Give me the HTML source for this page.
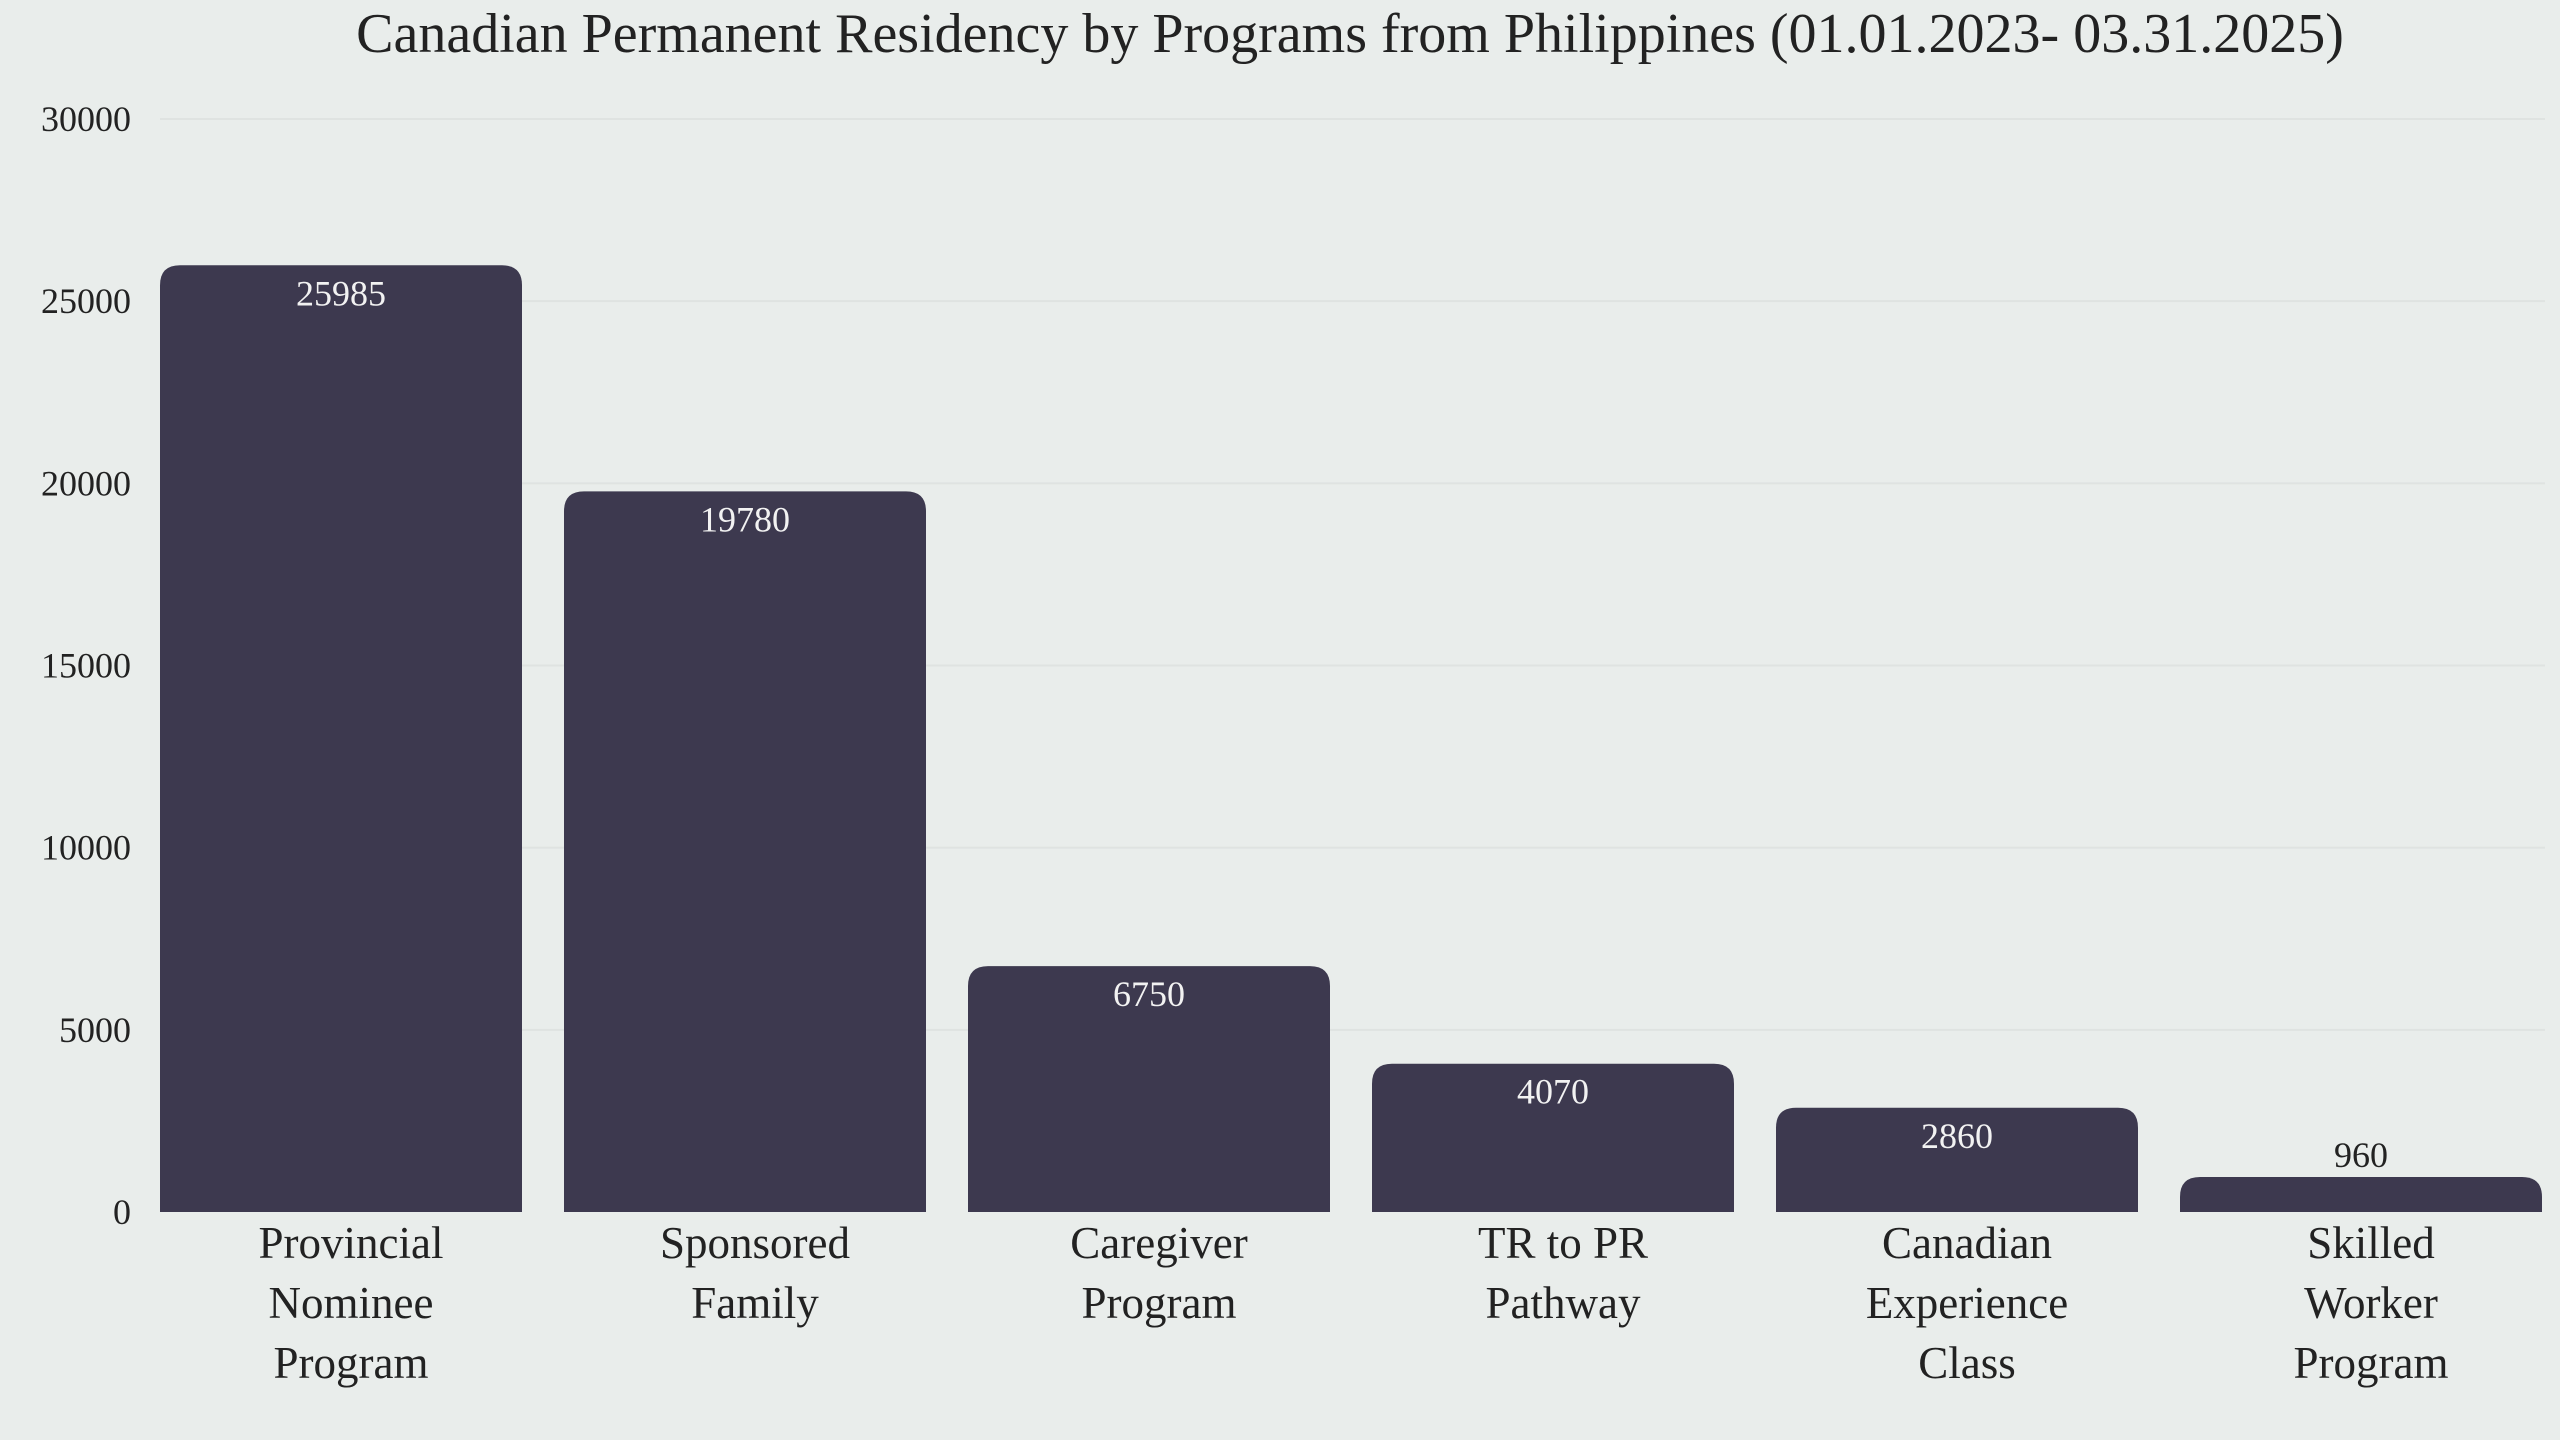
<!DOCTYPE html>
<html><head><meta charset="utf-8">
<style>
html,body{margin:0;padding:0;background:#e9edeb;}
svg{display:block;font-family:"Liberation Serif",serif;}
</style></head>
<body>
<svg id="chart" width="2560" height="1440" viewBox="0 0 2560 1440">
<rect width="2560" height="1440" fill="#e9edeb"/>
<text x="1350" y="52" text-anchor="middle" font-size="56" fill="#222">Canadian Permanent Residency by Programs from Philippines (01.01.2023- 03.31.2025)</text>
<g id="grid"></g><g id="bars"></g><g id="labels"></g>
</svg>
<script>
const categories = [["Provincial","Nominee","Program"],["Sponsored","Family"],["Caregiver","Program"],["TR to PR","Pathway"],["Canadian","Experience","Class"],["Skilled","Worker","Program"]];
const values = [25985,19780,6750,4070,2860,960];
const yTicks = [0,5000,10000,15000,20000,25000,30000];
const NS="http://www.w3.org/2000/svg";
const y0=1212, yTop=119, yMax=30000;
const yScale=v=>y0-(v/yMax)*(y0-yTop);
const x0=160, step=404, bw=362;
const xScale=i=>x0+i*step;
function mk(t,a,p){const e=document.createElementNS(NS,t);for(const k in a)e.setAttribute(k,a[k]);p.appendChild(e);return e;}
const grid=document.getElementById('grid'),bars=document.getElementById('bars'),labels=document.getElementById('labels');
yTicks.forEach(t=>{
  const y=yScale(t);
  if(t>0){const l=mk('line',{x1:160,x2:2545,y1:y,y2:y,stroke:'#dfe3e1','stroke-width':2},grid);
  
  }
  const tx=mk('text',{x:131,y:y+12,'text-anchor':'end','font-size':36,fill:'#222'},grid);
  tx.textContent=t;
  
  
});
values.forEach((v,i)=>{
  const x=xScale(i),y=yScale(v),h=y0-y,r=Math.min(20,h);
  const p=mk('path',{d:`M${x},${y0}V${y+r}Q${x},${y} ${x+r},${y}H${x+bw-r}Q${x+bw},${y} ${x+bw},${y+r}V${y0}Z`,fill:'#3d394f'},bars);
  
  
  const inside=h>60;
  const vt=mk('text',{x:x+bw/2,y:inside?y+40:y-10,'text-anchor':'middle','font-size':36,fill:inside?'#f2f2f2':'#222'},labels);
  vt.textContent=v;
  
  
  categories[i].forEach((line,j)=>{
    const ct=mk('text',{x:x+bw/2+10,y:1258+j*60,'text-anchor':'middle','font-size':45,fill:'#222'},labels);
    ct.textContent=line;
    
    
  });
});
</script>
</body></html>
